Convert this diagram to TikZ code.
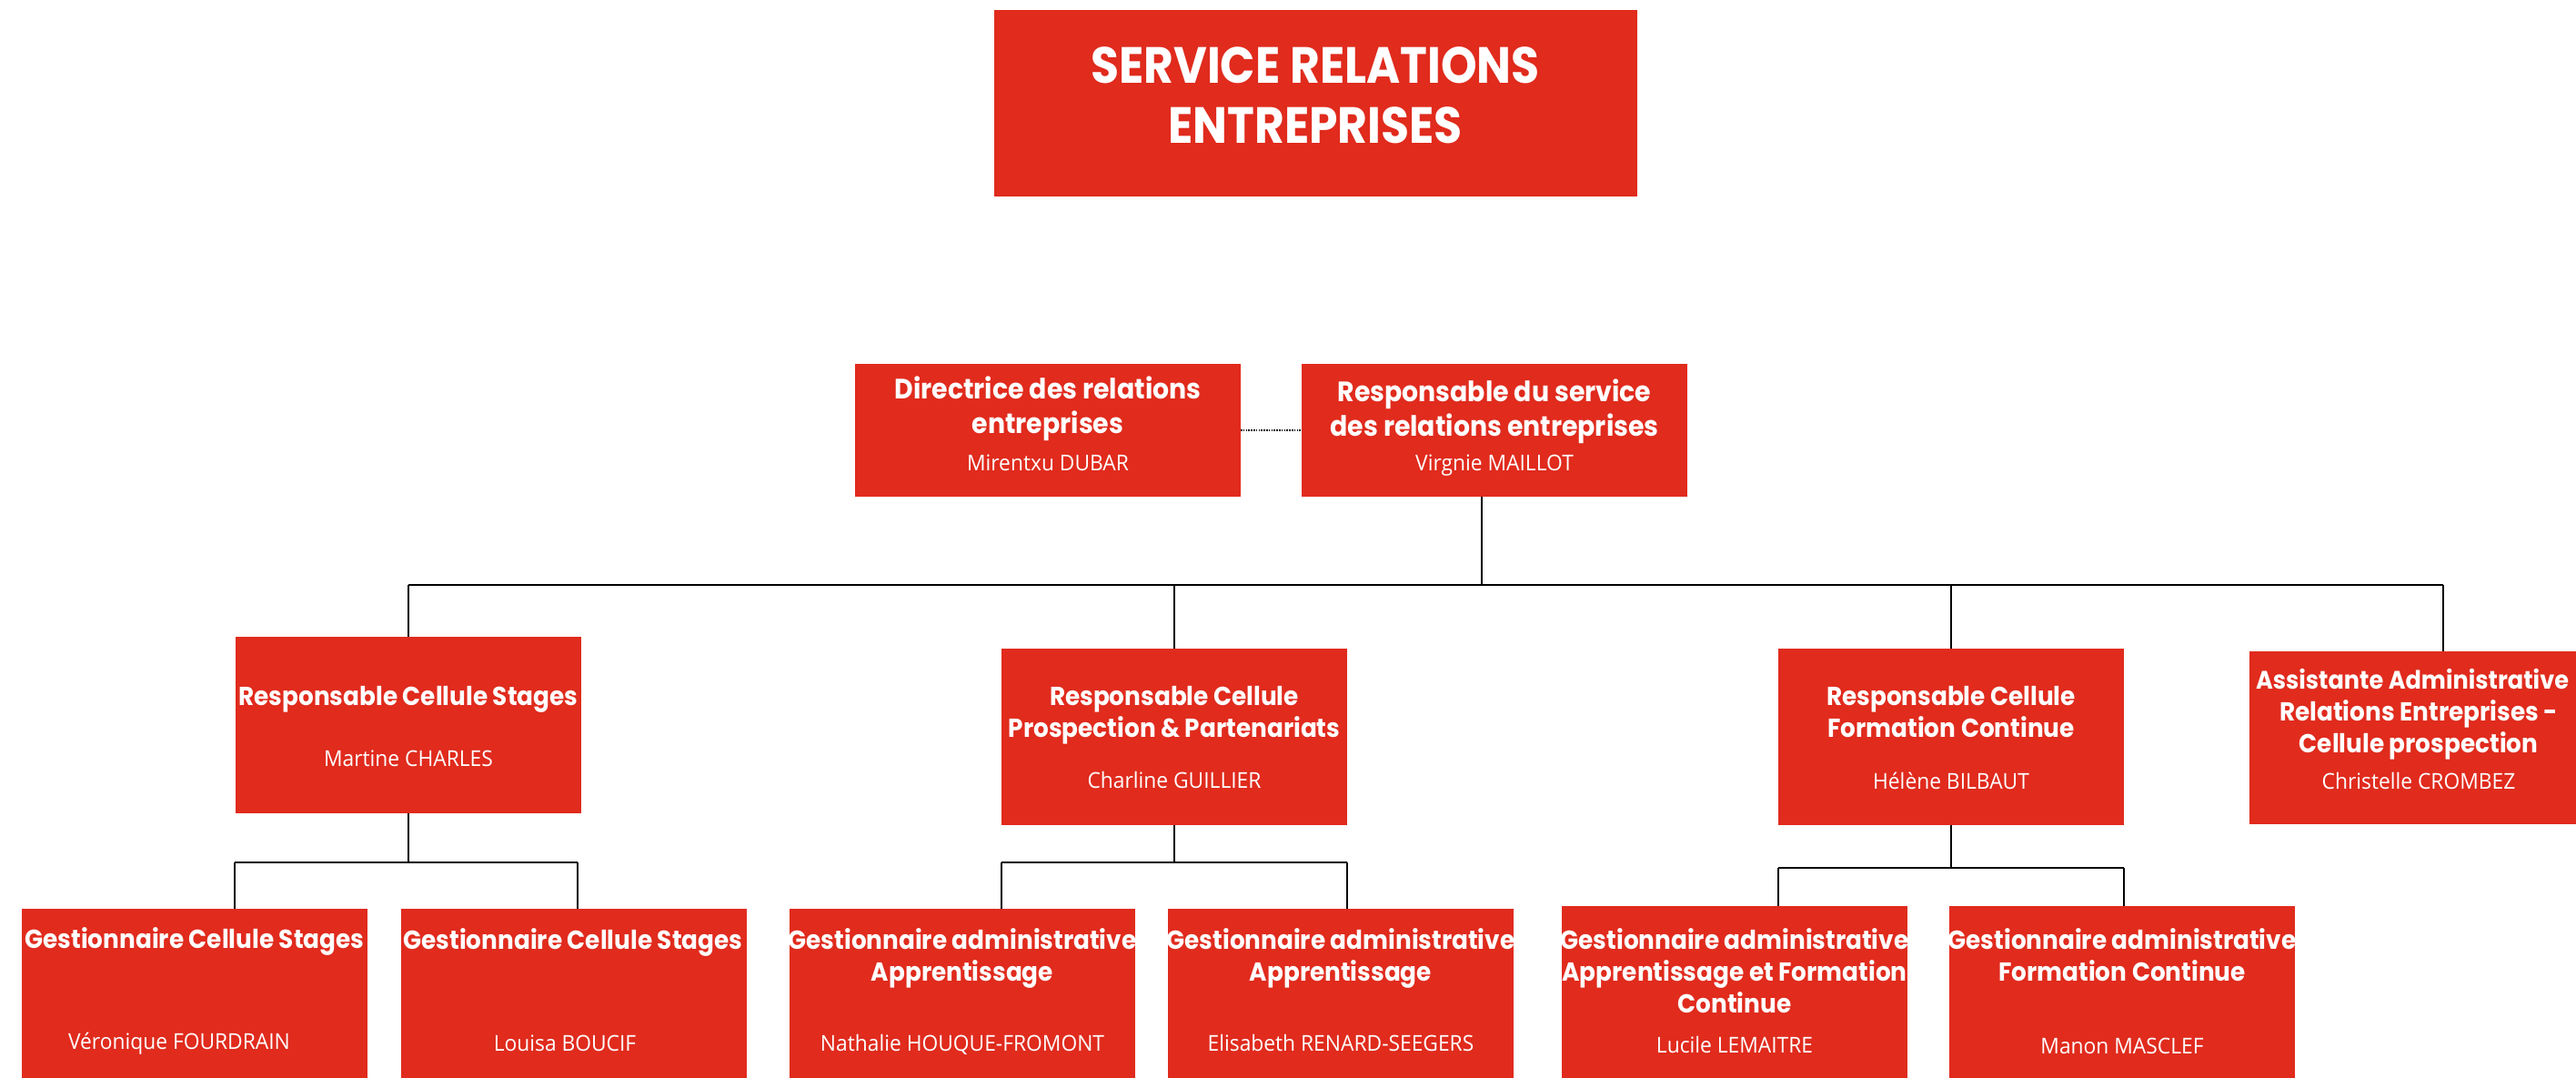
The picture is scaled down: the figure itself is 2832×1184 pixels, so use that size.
\documentclass[tikz,border=0pt]{standalone}
\usepackage{fontspec}
\newfontfamily\titlefont{Poppins}[FakeStretch=0.9]
\newfontfamily\headfont{Poppins}[FakeStretch=0.92]
\newfontfamily\namefont{Open Sans}[FakeStretch=0.95]
\definecolor{orgred}{RGB}{224,43,29}
\tikzset{
  box/.style={fill=orgred, draw=none, inner sep=0pt, outer sep=0pt, anchor=north west},
  bigbox/.style={box, minimum width=212pt, minimum height=73pt},
  cellbox/.style={box, minimum width=190pt, minimum height=97pt},
  ttl/.style={anchor=base, text=white, inner sep=0pt, font=\titlefont\bfseries\fontsize{28}{33}\selectfont},
  hd/.style={anchor=base, text=white, inner sep=0pt, font=\headfont\bfseries\fontsize{14.3}{17}\selectfont},
  hdbig/.style={anchor=base, text=white, inner sep=0pt, font=\headfont\bfseries\fontsize{15.4}{18}\selectfont},
  nm/.style={anchor=base, text=white, inner sep=0pt, font=\namefont\fontsize{12}{14}\selectfont},
  link/.style={draw=black, line width=1pt},
  dotlink/.style={draw=black, line width=0.9pt, dash pattern=on 0.8pt off 0.6pt}
}
\begin{document}
\begin{tikzpicture}[x=0.5pt, y=-0.5pt]
\useasboundingbox (0,0) rectangle (2832,1184);
\clip (0,0) rectangle (2832,1184);

% boxes
\node[box, minimum width=353.5pt, minimum height=102.5pt] (title) at (1093,11) {};
\node[bigbox] (dir) at (940,400) {};
\node[bigbox] (resp) at (1431,400) {};
\node[cellbox] (stages) at (259,700) {};
\node[cellbox] (prosp) at (1101,713) {};
\node[cellbox] (form) at (1955,713) {};
\node[box, minimum width=186pt, minimum height=95pt] (assist) at (2473,716) {};
\node[cellbox] (g1) at (24,999) {};
\node[cellbox] (g2) at (441,999) {};
\node[cellbox] (g3) at (868,999) {};
\node[cellbox] (g4) at (1284,999) {};
\node[cellbox] (g5) at (1717,996) {};
\node[cellbox] (g6) at (2143,996) {};

% texts
\node[ttl] (ta) at (1446,91) {SERVICE RELATIONS};
\node[ttl] (tb) at (1446,157) {ENTREPRISES};

\node[hdbig] (da) at (1152,438) {Directrice des relations};
\node[hdbig] (db) at (1152,476) {entreprises};
\node[nm] (dn) at (1152,517) {Mirentxu DUBAR};

\node[hdbig] (ra) at (1643,441) {Responsable du service};
\node[hdbig] (rb) at (1643,479) {des relations entreprises};
\node[nm] (rn) at (1643,517) {Virgnie MAILLOT};

\node[hd] (sa) at (449,775) {Responsable Cellule Stages};
\node[nm] (sn) at (449,842) {Martine CHARLES};

\node[hd] (pa) at (1291,775) {Responsable Cellule};
\node[hd] (pb) at (1291,810) {Prospection \& Partenariats};
\node[nm] (pn) at (1291,866) {Charline GUILLIER};

\node[hd] (fa) at (2145,775) {Responsable Cellule};
\node[hd] (fb) at (2145,810) {Formation Continue};
\node[nm] (fn) at (2145,867) {Hélène BILBAUT};

\node[hd, font=\headfont\bfseries\fontsize{13.9}{17}\selectfont] (aa) at (2652,757) {Assistante Administrative};
\node[hd] (ab) at (2659,792) {Relations Entreprises -};
\node[hd] (ac) at (2659,827) {Cellule prospection};
\node[nm] (an) at (2659,867) {Christelle CROMBEZ};

\node[hd] (g1a) at (214,1042) {Gestionnaire Cellule Stages};
\node[nm] (g1n) at (197,1153) {Véronique FOURDRAIN};

\node[hd] (g2a) at (630,1043) {Gestionnaire Cellule Stages};
\node[nm] (g2n) at (621,1155) {Louisa BOUCIF};

\node[hd] (g3a) at (1058,1043) {Gestionnaire administrative};
\node[hd] (g3b) at (1058,1078) {Apprentissage};
\node[nm] (g3n) at (1058,1155) {Nathalie HOUQUE-FROMONT};

\node[hd] (g4a) at (1474,1043) {Gestionnaire administrative};
\node[hd] (g4b) at (1474,1078) {Apprentissage};
\node[nm] (g4n) at (1474,1155) {Elisabeth RENARD-SEEGERS};

\node[hd] (g5a) at (1907,1043) {Gestionnaire administrative};
\node[hd] (g5b) at (1907,1078) {Apprentissage et Formation};
\node[hd] (g5c) at (1907,1113) {Continue};
\node[nm] (g5n) at (1907,1157) {Lucile LEMAITRE};

\node[hd] (g6a) at (2333,1043) {Gestionnaire administrative};
\node[hd] (g6b) at (2333,1078) {Formation Continue};
\node[nm] (g6n) at (2333,1158) {Manon MASCLEF};

% connector coordinates
\coordinate (bus) at (1629,643);
\coordinate (busR) at (2686,643);
\coordinate (sbar) at (449,948);
\coordinate (pbar) at (1291,948);
\coordinate (fbar) at (2145,954);
\coordinate (sL) at (258,948);
\coordinate (sR) at (635,948);

% connectors
\draw[dotlink] (dir.east) -- (dir.east -| resp.west);
\draw[link] (resp.south -| bus) -- (bus);
\draw[link] (stages.north |- bus) -- (busR);
\draw[link] (stages.north |- bus) -- (stages.north);
\draw[link] (prosp.north |- bus) -- (prosp.north);
\draw[link] (form.north |- bus) -- (form.north);
\draw[link] (busR) -- (busR |- assist.north);

\draw[link] (stages.south) -- (sbar);
\draw[link] (sL) -- (sR);
\draw[link] (sL) -- (sL |- g1.north);
\draw[link] (sR) -- (sR |- g2.north);

\draw[link] (prosp.south) -- (pbar);
\draw[link] (prosp.south west |- pbar) -- (prosp.south east |- pbar);
\draw[link] (prosp.south west |- pbar) -- (prosp.south west |- g3.north);
\draw[link] (prosp.south east |- pbar) -- (prosp.south east |- g4.north);

\draw[link] (form.south) -- (fbar);
\draw[link] (form.south west |- fbar) -- (form.south east |- fbar);
\draw[link] (form.south west |- fbar) -- (form.south west |- g5.north);
\draw[link] (form.south east |- fbar) -- (form.south east |- g6.north);
\end{tikzpicture}
\end{document}
